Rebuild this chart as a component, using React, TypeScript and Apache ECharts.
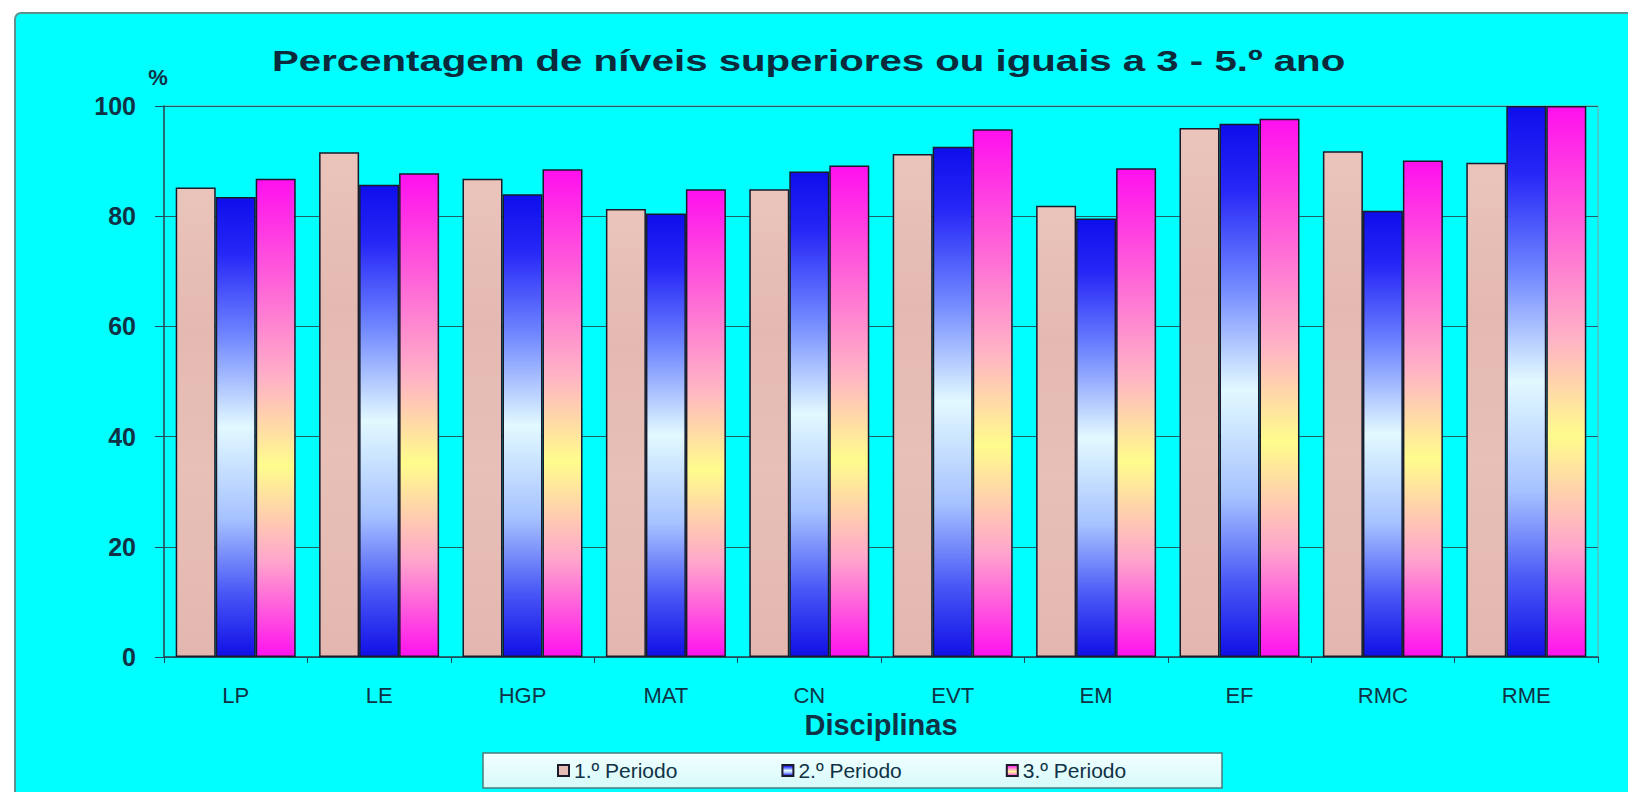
import React, { useEffect, useRef } from "react";
import * as echarts from "echarts";

const categories = ["LP", "LE", "HGP", "MAT", "CN", "EVT", "EM", "EF", "RMC", "RME"];
const periodo1 = [85.2, 91.6, 86.8, 81.3, 84.9, 91.3, 81.9, 96.0, 91.8, 89.7];
const periodo2 = [83.5, 85.7, 84.0, 80.5, 88.1, 92.6, 79.6, 96.8, 81.0, 100];
const periodo3 = [86.8, 87.8, 88.5, 84.9, 89.2, 95.8, 88.7, 97.7, 90.1, 100];
const seriesNames = ["1.º Periodo", "2.º Periodo", "3.º Periodo"];
const titleText = "Percentagem de níveis superiores ou iguais a 3 - 5.º ano";
const axisName = "Disciplinas";
const unitText = "%";

const FONT = '"Liberation Sans", Arial, sans-serif';
const TXT = "#0f3246";

const grad = (stops: [number, string][]) =>
  new echarts.graphic.LinearGradient(0, 0, 0, 1, stops.map(([offset, color]) => ({ offset, color })));

export default function App() {
  const ref = useRef<HTMLDivElement>(null);
  useEffect(() => {
    if (!ref.current) return;
    const chart = echarts.init(ref.current, undefined, { renderer: "svg" });
    const fills = [
      grad([
        [0, "#EAC4BB"],
        [0.3, "#E4B9B1"],
        [0.6, "#E8C0B7"],
        [1, "#E3B7AF"],
      ]),
      grad([
        [0, "#0E0EEC"],
        [0.12, "#2626F6"],
        [0.3, "#6F86FF"],
        [0.5, "#E2F9FF"],
        [0.7, "#A6C2FF"],
        [0.86, "#4A58F6"],
        [1, "#1010E6"],
      ]),
      grad([
        [0, "#FF10EE"],
        [0.2, "#FF5CDA"],
        [0.42, "#FFB2C6"],
        [0.6, "#FFFC8C"],
        [0.8, "#FFA6CC"],
        [1, "#FF12EE"],
      ]),
    ];
    const datas = [periodo1, periodo2, periodo3];
    chart.setOption({
      animation: false,
      backgroundColor: "#ffffff",
      graphic: {
        elements: [
          {
            type: "rect",
            z: -100,
            shape: { x: 15, y: 13, width: 1640, height: 800, r: 6 },
            style: { fill: "#00FFFF", stroke: "#5f9090", lineWidth: 2 },
          },
          {
            type: "rect",
            z: -50,
            shape: { x: 483, y: 753, width: 739, height: 35 },
            style: {
              fill: grad([
                [0, "#F2FFFF"],
                [1, "#D6FAFA"],
              ]),
              stroke: "#4b7b7b",
              lineWidth: 1.5,
            },
          },
          {
            type: "text",
            x: 272,
            y: 61,
            scaleX: 1.34,
            style: {
              text: titleText,
              font: `bold 30px ${FONT}`,
              fill: "#0b2a3c",
              textAlign: "left",
              textVerticalAlign: "middle",
            },
          },
          {
            type: "text",
            x: 158,
            y: 77,
            style: {
              text: unitText,
              font: `bold 22px ${FONT}`,
              fill: TXT,
              textAlign: "center",
              textVerticalAlign: "middle",
            },
          },
        ],
      },
      legend: {
        data: seriesNames,
        left: 557,
        top: 760,
        padding: 0,
        icon: "rect",
        itemWidth: 11,
        itemHeight: 11,
        itemGap: 104,
        textStyle: { fontFamily: FONT, fontSize: 21, color: TXT },
      },
      grid: {
        left: 164,
        right: 30,
        top: 106,
        bottom: 135,
        show: true,
        borderColor: "#7fa3a3",
        borderWidth: 1,
        backgroundColor: "transparent",
      },
      xAxis: {
        type: "category",
        data: categories,
        name: axisName,
        nameLocation: "middle",
        nameGap: 44,
        nameTextStyle: { fontFamily: FONT, fontSize: 29, fontWeight: "bold", color: TXT },
        axisLine: { lineStyle: { color: "#1d4a5a", width: 1.5 } },
        axisTick: { show: true, length: 6, lineStyle: { color: "#1d4a5a" } },
        axisLabel: { fontFamily: FONT, fontSize: 22, color: TXT, margin: 27 },
      },
      yAxis: {
        type: "value",
        min: 0,
        max: 100,
        interval: 20,
        axisLine: { show: true, lineStyle: { color: "#1d4a5a", width: 1.5 } },
        axisTick: { show: true, length: 9, lineStyle: { color: "#1d4a5a" } },
        axisLabel: { fontFamily: FONT, fontSize: 25, fontWeight: "bold", color: TXT, margin: 28 },
        splitLine: { show: true, lineStyle: { color: "#1f5f66", width: 1 } },
      },
      series: seriesNames.map((name, i) => ({
        name,
        type: "bar",
        data: datas[i],
        barWidth: 40,
        barGap: "0%",
        itemStyle: { color: fills[i], borderColor: "#1a1a2a", borderWidth: 1.5 },
      })),
    });
    return () => chart.dispose();
  }, []);
  return (
    <div
      ref={ref}
      style={{ position: "fixed", left: 0, top: 0, width: 1628, height: 792, background: "#fff" }}
    />
  );
}
